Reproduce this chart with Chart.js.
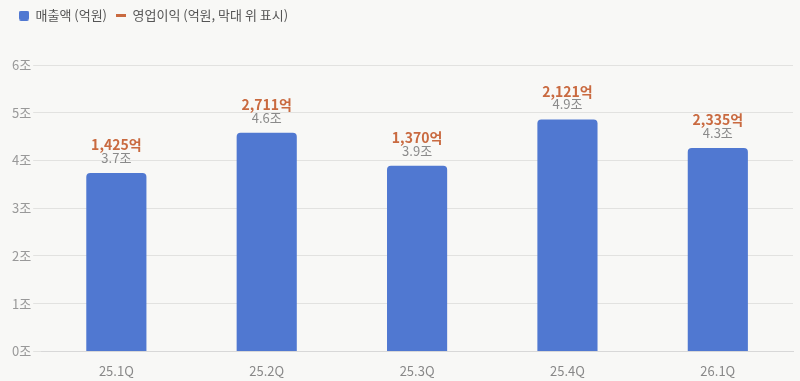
<!DOCTYPE html>
<html>
<head>
<meta charset="utf-8">
<script src="https://cdn.jsdelivr.net/npm/chart.js@4"></script>
<style>
    html, body { margin: 0; padding: 0; background: #f8f8f6; }
    #wrap { width: 800px; height: 381px; }
</style>
</head>
<body>
<div id="wrap"><canvas id="salesChart"></canvas></div>
<script>
const quarters = ['25.1Q', '25.2Q', '25.3Q', '25.4Q', '26.1Q'];
const revenue = [37400, 45800, 38900, 48600, 42600];   // 억원
const opProfit = [1425, 2711, 1370, 2121, 2335];        // 억원
const yTicks = [0, 10000, 20000, 30000, 40000, 50000, 60000];

const blue = '#5078d1';
const orange = '#c96a40';
const fontFamily = '"Noto Sans CJK KR", "Noto Sans", sans-serif';

// small canvases used as legend markers
function legendMarker(w, h, draw) {
    const c = document.createElement('canvas');
    c.width = w;
    c.height = h;
    draw(c.getContext('2d'));
    return c;
}
const blueBox = legendMarker(10, 10, ctx => {
    ctx.fillStyle = blue;
    ctx.beginPath();
    ctx.roundRect(0, 0, 10, 10, 2);
    ctx.fill();
});
const orangeLine = legendMarker(10, 3, ctx => {
    ctx.fillStyle = orange;
    ctx.fillRect(0, 0, 10, 3);
});

// writes profit + revenue above each bar
const barLabels = {
    id: 'barLabels',
    afterDatasetsDraw(chart) {
        const ctx = chart.ctx;
        const meta = chart.getDatasetMeta(0);
        ctx.save();
        ctx.textAlign = 'center';
        ctx.textBaseline = 'middle';
        meta.data.forEach((bar, i) => {
            ctx.font = '13px ' + fontFamily;
            ctx.fillStyle = '#8a8a8a';
            ctx.fillText((revenue[i] / 10000).toFixed(1) + '조', bar.x, bar.y - 15);
            ctx.font = 'bold 14px ' + fontFamily;
            ctx.fillStyle = orange;
            ctx.fillText(opProfit[i].toLocaleString('en-US') + '억', bar.x, bar.y - 28);
        });
        ctx.restore();
    }
};

new Chart(document.getElementById('salesChart'), {
    type: 'bar',
    data: {
        labels: quarters,
        datasets: [{
            label: '매출액 (억원)',
            data: revenue,
            backgroundColor: blue,
            borderRadius: { topLeft: 4, topRight: 4 },
            borderSkipped: 'bottom',
            barPercentage: 0.5,
            categoryPercentage: 0.8
        }]
    },
    options: {
        responsive: true,
        maintainAspectRatio: false,
        animation: false,
        layout: { padding: { left: 10, right: 7, top: 0, bottom: -2 } },
        plugins: {
            tooltip: { enabled: false },
            legend: {
                position: 'top',
                align: 'start',
                labels: {
                    usePointStyle: true,
                    boxWidth: 10,
                    boxHeight: 10,
                    padding: 9,
                    color: '#555',
                    font: { family: fontFamily, size: 13 },
                    generateLabels() {
                        return [
                            { text: '매출액 (억원)', pointStyle: blueBox, fontColor: '#555' },
                            { text: '영업이익 (억원, 막대 위 표시)', pointStyle: orangeLine, fontColor: '#555' }
                        ];
                    }
                }
            }
        },
        scales: {
            x: {
                grid: { display: false },
                border: { color: '#d8d8d8' },
                ticks: { color: '#888', padding: 4, font: { family: fontFamily, size: 13 } }
            },
            y: {
                min: 0,
                max: 60000,
                afterBuildTicks(axis) { axis.ticks = yTicks.map(v => ({ value: v })); },
                grid: { color: '#e2e2e0', tickLength: 8 },
                border: { display: false },
                ticks: {
                    color: '#999',
                    padding: 2,
                    font: { family: fontFamily, size: 13 },
                    callback: v => (v / 10000) + '조'
                }
            }
        }
    },
    plugins: [barLabels, {
        id: 'legendGap',
        beforeInit(chart) {
            const fit = chart.legend.fit;
            chart.legend.fit = function () { fit.bind(chart.legend)(); this.height += 33; };
        }
    }]
});
</script>
</body>
</html>
